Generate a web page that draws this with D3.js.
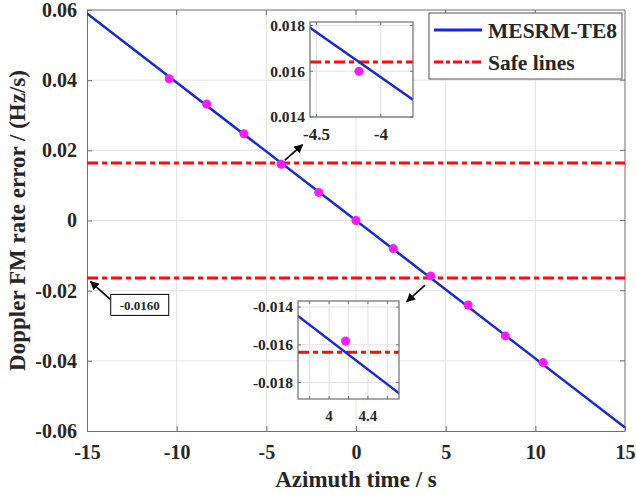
<!DOCTYPE html>
<html>
<head>
<meta charset="utf-8">
<script src="https://cdn.jsdelivr.net/npm/d3@7"></script>
<style>
  body { margin: 0; background: #fff; }
  text { font-family: "Liberation Serif", "Times New Roman", serif; font-weight: bold; fill: #262626; }
</style>
</head>
<body>
<svg id="chart"></svg>
<script>
// data
const lineTime = [-15, 15];
const lineErr = [0.0590, -0.0590];
const ptTime = [-10.42, -8.33, -6.25, -4.17, -2.08, 0, 2.08, 4.17, 6.25, 8.33, 10.42];
const ptErr = [0.0404, 0.0332, 0.0247, 0.0160, 0.0080, 0, -0.0080, -0.0158, -0.0241, -0.0329, -0.0405];
const safeLevels = [0.0164, -0.0164];
const xTicks = [-15, -10, -5, 0, 5, 10, 15];
const yTicks = [-0.06, -0.04, -0.02, 0, 0.02, 0.04, 0.06];
const legendNames = ["MESRM-TE8", "Safe lines"];

const inset1 = {xDomain: [-4.55, -3.75], yDomain: [0.014, 0.01815], xGrid: [-4.5, -4], xLabels: [-4.5, -4], yTicks: [0.014, 0.016, 0.018]};
const inset2 = {xDomain: [3.68, 4.72], yDomain: [-0.01887, -0.01368], xGrid: [3.8, 4, 4.2, 4.4, 4.6], xLabels: [4, 4.4], yTicks: [-0.018, -0.016, -0.014]};

// annotations in data units: [from, to]
const annotations = [
  {from: [-3.96, 0.0172], to: [-2.98, 0.0216], label: null},
  {from: [-13.72, -0.0224], to: [-14.8, -0.01745], label: "-0.0160", at: [-12.06, -0.0242]},
  {from: [3.85, -0.0184], to: [2.83, -0.0231], label: null}
];

const W = 636, H = 499;
const margin = {top: 10, right: 11, bottom: 68, left: 87};
const hyphen = s => s.replace(/−/g, "-");

const svg = d3.select("#chart").attr("width", W).attr("height", H);

const x = d3.scaleLinear().domain([-15, 15]).range([margin.left, W - margin.right]);
const y = d3.scaleLinear().domain([-0.06, 0.06]).range([H - margin.bottom, margin.top]);

const blue = "#1628d8", red = "#ff0a0a", magenta = "#ff19ff", frame = "#6e6e6e";
const dash = "11,4,5,4";

svg.append("defs").append("marker")
  .attr("id", "arrow")
  .attr("viewBox", "0 0 10 10")
  .attr("refX", 9).attr("refY", 5)
  .attr("markerWidth", 9).attr("markerHeight", 9)
  .attr("markerUnits", "userSpaceOnUse")
  .attr("orient", "auto")
  .append("path").attr("d", "M0,0 L10,5 L0,10 Z").attr("fill", "#000");

svg.select("defs").append("clipPath").attr("id", "clipMain")
  .append("rect")
  .attr("x", x(-15)).attr("y", y(0.06))
  .attr("width", x(15) - x(-15)).attr("height", y(-0.06) - y(0.06));

// grid
svg.append("g").selectAll("line").data(xTicks.slice(1, -1)).enter().append("line")
  .attr("x1", d => x(d)).attr("x2", d => x(d))
  .attr("y1", y(0.06)).attr("y2", y(-0.06))
  .attr("stroke", "#e3e3e3").attr("stroke-width", 1);
svg.append("g").selectAll("line").data(yTicks.slice(1, -1)).enter().append("line")
  .attr("y1", d => y(d)).attr("y2", d => y(d))
  .attr("x1", x(-15)).attr("x2", x(15))
  .attr("stroke", "#e3e3e3").attr("stroke-width", 1);

// axes
const xAxis = g => g
  .attr("transform", `translate(0,${y(-0.06)})`)
  .call(d3.axisBottom(x).tickValues(xTicks).tickSizeInner(-5).tickSizeOuter(0).tickPadding(14)
    .tickFormat(d => hyphen(d3.format("d")(d))))
  .call(g => g.select(".domain").attr("stroke", frame))
  .call(g => g.selectAll(".tick line").attr("stroke", frame))
  .call(g => g.selectAll("text").attr("font-size", 20).attr("font-family", null).attr("fill", "#262626"));

const yAxis = g => g
  .attr("transform", `translate(${x(-15)},0)`)
  .call(d3.axisLeft(y).tickValues(yTicks).tickSizeInner(-5).tickSizeOuter(0).tickPadding(10)
    .tickFormat(d => d === 0 ? "0" : hyphen(d3.format(".2f")(d))))
  .call(g => g.select(".domain").attr("stroke", frame))
  .call(g => g.selectAll(".tick line").attr("stroke", frame))
  .call(g => g.selectAll("text").attr("font-size", 20).attr("font-family", null).attr("fill", "#262626"));

svg.append("g").call(xAxis);
svg.append("g").call(yAxis);

// top/right frame
svg.append("line").attr("x1", x(-15)).attr("x2", x(15)).attr("y1", y(0.06)).attr("y2", y(0.06)).attr("stroke", frame);
svg.append("line").attr("x1", x(15)).attr("x2", x(15)).attr("y1", y(0.06)).attr("y2", y(-0.06)).attr("stroke", frame);
svg.append("g").selectAll("line").data(xTicks.slice(1, -1)).enter().append("line")
  .attr("x1", d => x(d)).attr("x2", d => x(d)).attr("y1", y(0.06)).attr("y2", y(0.06) + 5).attr("stroke", frame);
svg.append("g").selectAll("line").data(yTicks.slice(1, -1)).enter().append("line")
  .attr("y1", d => y(d)).attr("y2", d => y(d)).attr("x1", x(15)).attr("x2", x(15) - 5).attr("stroke", frame);

// series
const plot = svg.append("g").attr("clip-path", "url(#clipMain)");
const linePts = lineTime.map((t, i) => [t, lineErr[i]]);

plot.selectAll(".safe").data(safeLevels).enter().append("line")
  .attr("x1", x(-15)).attr("x2", x(15))
  .attr("y1", d => y(d)).attr("y2", d => y(d))
  .attr("stroke", red).attr("stroke-width", 3).attr("stroke-dasharray", dash);

plot.append("path").datum(linePts)
  .attr("fill", "none").attr("stroke", blue).attr("stroke-width", 2.5)
  .attr("d", d3.line().x(d => x(d[0])).y(d => y(d[1])));

plot.selectAll("circle").data(ptTime.map((t, i) => [t, ptErr[i]])).enter().append("circle")
  .attr("cx", d => x(d[0])).attr("cy", d => y(d[1])).attr("r", 4.5).attr("fill", magenta);

// annotations
annotations.forEach(a => {
  svg.append("line")
    .attr("x1", x(a.from[0])).attr("y1", y(a.from[1]))
    .attr("x2", x(a.to[0])).attr("y2", y(a.to[1]))
    .attr("stroke", "#000").attr("stroke-width", 1.6)
    .attr("marker-end", "url(#arrow)");
  if (!a.label) return;
  svg.append("rect")
    .attr("x", x(a.at[0]) - 29).attr("y", y(a.at[1]) - 11)
    .attr("width", 58).attr("height", 21)
    .attr("fill", "#fff").attr("stroke", "#000").attr("stroke-width", 1);
  svg.append("text").attr("x", x(a.at[0])).attr("y", y(a.at[1]))
    .attr("dy", "0.35em").attr("text-anchor", "middle").attr("font-size", 13).attr("fill", "#000")
    .text(a.label);
});

// insets
const drawInset = (cfg, box, id, labelBold) => {
  const ix = d3.scaleLinear().domain(cfg.xDomain).range([box.x0, box.x1]);
  const iy = d3.scaleLinear().domain(cfg.yDomain).range([box.y1, box.y0]);
  const g = svg.append("g");
  g.append("clipPath").attr("id", id).append("rect")
    .attr("x", box.x0).attr("y", box.y0).attr("width", box.x1 - box.x0).attr("height", box.y1 - box.y0);
  g.append("rect").attr("x", box.x0).attr("y", box.y0)
    .attr("width", box.x1 - box.x0).attr("height", box.y1 - box.y0).attr("fill", "#fff");
  g.selectAll(".gx").data(cfg.xGrid).enter().append("line")
    .attr("x1", d => ix(d)).attr("x2", d => ix(d)).attr("y1", box.y0).attr("y2", box.y1)
    .attr("stroke", "#e0e0e0");
  g.selectAll(".gy").data(cfg.yTicks).enter().append("line")
    .attr("y1", d => iy(d)).attr("y2", d => iy(d)).attr("x1", box.x0).attr("x2", box.x1)
    .attr("stroke", "#e0e0e0");
  const inner = g.append("g").attr("clip-path", `url(#${id})`);
  inner.selectAll(".safe").data(safeLevels).enter().append("line")
    .attr("x1", box.x0).attr("x2", box.x1).attr("y1", d => iy(d)).attr("y2", d => iy(d))
    .attr("stroke", red).attr("stroke-width", 3).attr("stroke-dasharray", dash);
  inner.append("path").datum(linePts)
    .attr("fill", "none").attr("stroke", blue).attr("stroke-width", 2.5)
    .attr("d", d3.line().x(d => ix(d[0])).y(d => iy(d[1])));
  inner.selectAll("circle").data(ptTime.map((t, i) => [t, ptErr[i]])).enter().append("circle")
    .attr("cx", d => ix(d[0])).attr("cy", d => iy(d[1])).attr("r", 4.5).attr("fill", magenta);
  // ticks
  g.selectAll(".tx").data(cfg.xGrid).enter().append("path")
    .attr("d", d => `M${ix(d)},${box.y1}v-3M${ix(d)},${box.y0}v3`).attr("stroke", frame);
  g.selectAll(".ty").data(cfg.yTicks).enter().append("path")
    .attr("d", d => `M${box.x0},${iy(d)}h3M${box.x1},${iy(d)}h-3`).attr("stroke", frame);
  g.append("rect").attr("x", box.x0).attr("y", box.y0)
    .attr("width", box.x1 - box.x0).attr("height", box.y1 - box.y0)
    .attr("fill", "none").attr("stroke", frame).attr("stroke-width", 1.2);
  g.selectAll(".lx").data(cfg.xLabels).enter().append("text")
    .attr("x", d => ix(d)).attr("y", box.y1 + 17).attr("dy", "0.35em")
    .attr("text-anchor", "middle").attr("font-size", labelBold ? 17 : 15)
    .attr("font-weight", labelBold ? "bold" : "normal")
    .text(d => hyphen(d3.format("")(d)));
  g.selectAll(".ly").data(cfg.yTicks).enter().append("text")
    .attr("x", box.x0 - 5).attr("y", d => iy(d)).attr("dy", "0.35em")
    .attr("text-anchor", "end").attr("font-size", 15.5)
    .text(d => hyphen(d3.format(".3f")(d)));
};

drawInset(inset1, {x0: 310, x1: 413, y0: 22, y1: 117}, "clipInset1", true);
drawInset(inset2, {x0: 298, x1: 399, y0: 301, y1: 399}, "clipInset2", false);

// legend
const lg = svg.append("g").attr("transform", `translate(${x(15) - 196},${y(0.06) + 3})`);
lg.append("rect").attr("width", 193).attr("height", 66).attr("fill", "#fff").attr("stroke", frame).attr("stroke-width", 1.2);
const li = lg.selectAll("g").data(legendNames).enter().append("g")
  .attr("transform", (d, i) => `translate(5,${17 + i * 32})`);
li.append("line").attr("x1", 0).attr("x2", 48).attr("y1", 0).attr("y2", 0)
  .attr("stroke", (d, i) => i === 0 ? blue : red).attr("stroke-width", 3)
  .attr("stroke-dasharray", (d, i) => i === 0 ? null : "9,3,4,3");
li.append("text").attr("x", 54).attr("dy", "0.35em").attr("font-size", 21.5).attr("fill", "#111").text(d => d);

// axis labels
svg.append("text").attr("x", x(0)).attr("y", H - 12).attr("text-anchor", "middle")
  .attr("font-size", 23).text("Azimuth time / s");
svg.append("text").attr("transform", `translate(25,${y(0)}) rotate(-90)`).attr("text-anchor", "middle")
  .attr("font-size", 23).text("Doppler FM rate error / (Hz/s)");
</script>
</body>
</html>
